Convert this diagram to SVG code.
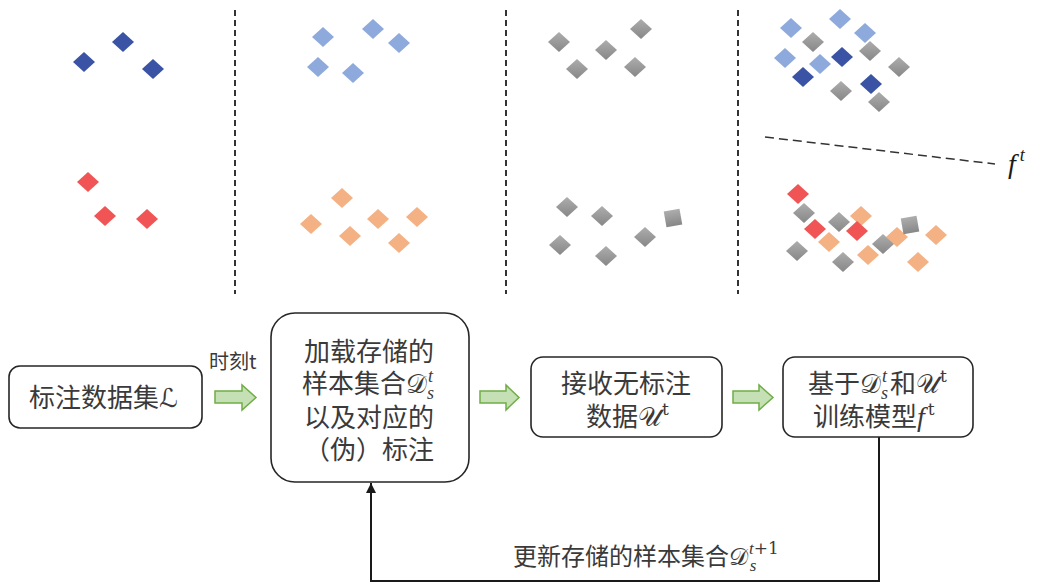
<svg xmlns="http://www.w3.org/2000/svg" xmlns:xlink="http://www.w3.org/1999/xlink" width="1040" height="583" viewBox="0 0 1040 583">
<defs>
<linearGradient id="gg" x1="0" y1="0" x2="0" y2="1">
<stop offset="0" stop-color="#ADADAD"/>
<stop offset="1" stop-color="#878787"/>
</linearGradient>
<path id="d" d="M-11,0 L0,-10 L11,0 L0,10 Z"/>
<rect id="sq" x="-8" y="-8" width="16" height="16"/>
<marker id="ah" viewBox="0 0 10 10" refX="10" refY="5" markerWidth="5" markerHeight="5" orient="auto" markerUnits="strokeWidth">
<path d="M0,0 L10,5 L0,10 Z" fill="#1a1a1a"/>
</marker>
</defs>
<style>
.db{fill:#3A53A4}
.lb{fill:#8EAADC}
.rd{fill:#F05455}
.or{fill:#F4B183}
.gr{fill:url(#gg)}
.vsep{stroke:#333;stroke-width:2;stroke-dasharray:6 4;fill:none}
.box{fill:#fff;stroke:#262626;stroke-width:1.6}
.garr{fill:#C5E0B4;stroke:#70AD47;stroke-width:1.5}
.t{font-family:"Noto Sans CJK SC","Noto Sans",sans-serif;font-size:26px;fill:#3a3a3a;font-weight:400}
.m{font-family:"DejaVu Serif","DejaVu Sans","Noto Sans",serif;font-weight:400}
.it{font-family:"Liberation Serif","DejaVu Serif",serif;font-style:italic;font-weight:400}
.conn{stroke:#1a1a1a;stroke-width:2;fill:none}
</style>

<g id="separators">
<line class="vsep" x1="235" y1="10" x2="235" y2="294"/>
<line class="vsep" x1="506" y1="10" x2="506" y2="294"/>
<line class="vsep" x1="738" y1="10" x2="738" y2="294"/>
</g>

<g id="panel1">
<use href="#d" class="db" x="84" y="62"/>
<use href="#d" class="db" x="123" y="42"/>
<use href="#d" class="db" x="153" y="69"/>
<use href="#d" class="rd" x="88" y="182"/>
<use href="#d" class="rd" x="105" y="216"/>
<use href="#d" class="rd" x="147" y="219"/>
</g>

<g id="panel2">
<use href="#d" class="lb" x="323" y="37"/>
<use href="#d" class="lb" x="373" y="29"/>
<use href="#d" class="lb" x="399" y="43"/>
<use href="#d" class="lb" x="318" y="67"/>
<use href="#d" class="lb" x="353" y="73"/>
<use href="#d" class="or" x="342" y="198"/>
<use href="#d" class="or" x="311" y="224"/>
<use href="#d" class="or" x="378" y="219"/>
<use href="#d" class="or" x="417" y="217"/>
<use href="#d" class="or" x="350" y="236"/>
<use href="#d" class="or" x="399" y="243"/>
</g>

<g id="panel3">
<use href="#d" class="gr" x="559" y="42"/>
<use href="#d" class="gr" x="606" y="50"/>
<use href="#d" class="gr" x="641" y="29"/>
<use href="#d" class="gr" x="577" y="69"/>
<use href="#d" class="gr" x="635" y="67"/>
<use href="#d" class="gr" x="567" y="207"/>
<use href="#d" class="gr" x="602" y="216"/>
<use href="#sq" class="gr" transform="translate(673,218) rotate(-10)"/>
<use href="#d" class="gr" x="560" y="245"/>
<use href="#d" class="gr" x="645" y="237"/>
<use href="#d" class="gr" x="606" y="256"/>
</g>

<g id="panel4">
<use href="#d" class="gr" x="813" y="42"/>
<use href="#d" class="gr" x="870" y="51"/>
<use href="#d" class="gr" x="899" y="67"/>
<use href="#d" class="gr" x="841" y="91"/>
<use href="#d" class="gr" x="879" y="102"/>
<use href="#d" class="lb" x="791" y="28"/>
<use href="#d" class="lb" x="840" y="19"/>
<use href="#d" class="lb" x="865" y="33"/>
<use href="#d" class="lb" x="785" y="58"/>
<use href="#d" class="lb" x="820" y="64"/>
<use href="#d" class="db" x="842" y="57"/>
<use href="#d" class="db" x="803" y="77"/>
<use href="#d" class="db" x="871" y="84"/>
<line x1="765" y1="137" x2="995" y2="164" stroke="#333" stroke-width="1.5" stroke-dasharray="9 5"/>
<text x="1008" y="173" class="it" font-size="28" fill="#1a1a1a">f<tspan font-size="18" dy="-12" dx="4">t</tspan></text>
<use href="#d" class="gr" x="804" y="213"/>
<use href="#d" class="gr" x="839" y="222"/>
<use href="#d" class="gr" x="797" y="251"/>
<use href="#d" class="gr" x="843" y="262"/>
<use href="#d" class="or" x="861" y="216"/>
<use href="#d" class="or" x="829" y="242"/>
<use href="#d" class="or" x="897" y="237"/>
<use href="#d" class="or" x="936" y="235"/>
<use href="#d" class="or" x="868" y="255"/>
<use href="#d" class="or" x="918" y="262"/>
<use href="#sq" class="gr" transform="translate(910,225) rotate(-10)"/>
<use href="#d" class="gr" x="883" y="244"/>
<use href="#d" class="rd" x="798" y="194"/>
<use href="#d" class="rd" x="815" y="229"/>
<use href="#d" class="rd" x="857" y="231"/>
</g>

<g id="connectors">
<path class="garr" d="M215,391 H242 V385 L256,397.5 L242,410 V403 H215 Z"/>
<path class="garr" d="M480,391 H506 V385 L519,397.5 L506,410 V403 H480 Z"/>
<path class="garr" d="M733,391 H759 V385 L773,397.5 L759,410 V403 H733 Z"/>
<polyline class="conn" points="879,437 879,581 371,581 371,483" marker-end="url(#ah)"/>
<text x="209" y="369" class="t" style="font-size:20px">时刻t</text>
<text x="513" y="565" class="t" style="font-size:24px">更新存储的样本集合<tspan class="m">𝒟</tspan><tspan class="it" font-size="17" dy="-11" dx="1">t</tspan><tspan class="m" font-size="17" dy="0">+1</tspan><tspan class="it" font-size="17" dx="-29" dy="17">s</tspan></text>
</g>

<g id="node-labeled">
<rect class="box" x="9" y="366" width="193" height="62" rx="11"/>
<text x="29" y="407" class="t">标注数据集<tspan class="m">ℒ</tspan></text>
</g>

<g id="node-memory">
<rect class="box" x="271" y="313" width="198" height="169" rx="24"/>
<text x="369" y="361" class="t" text-anchor="middle">加载存储的</text>
<text x="302" y="393" class="t">样本集合<tspan class="m">𝒟</tspan><tspan class="it" font-size="18" dy="-11" dx="1">t</tspan><tspan class="it" font-size="18" dx="-6" dy="17">s</tspan></text>
<text x="369" y="427" class="t" text-anchor="middle">以及对应的</text>
<text x="369" y="459" class="t" text-anchor="middle">（伪）标注</text>
</g>

<g id="node-unlabeled">
<rect class="box" x="531" y="357" width="191" height="80" rx="12"/>
<text x="626" y="393" class="t" text-anchor="middle">接收无标注</text>
<text x="586" y="426" class="t">数据<tspan class="m">𝒰</tspan><tspan class="m" font-size="17" dy="-11" dx="1">t</tspan></text>
</g>

<g id="node-train">
<rect class="box" x="783" y="357" width="190" height="80" rx="12"/>
<text x="808" y="393" class="t">基于<tspan class="m">𝒟</tspan><tspan class="it" font-size="18" dy="-11" dx="1">t</tspan><tspan class="it" font-size="18" dx="-6" dy="17">s</tspan><tspan dy="-6" dx="2">和</tspan><tspan class="m">𝒰</tspan><tspan class="m" font-size="17" dy="-11" dx="1">t</tspan></text>
<text x="813" y="426" class="t">训练模型<tspan class="it" font-size="28">f</tspan><tspan class="m" font-size="17" dy="-11" dx="3">t</tspan></text>
</g>
</svg>
